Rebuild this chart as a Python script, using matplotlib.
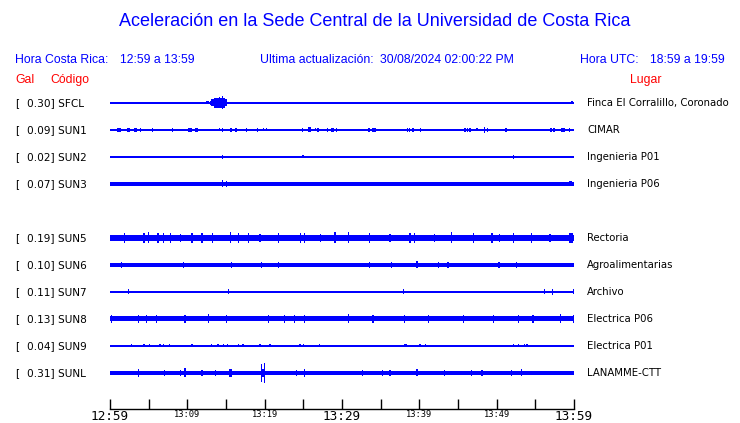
import matplotlib
matplotlib.use("Agg")
import matplotlib.pyplot as plt

# station table
codes = ["SFCL", "SUN1", "SUN2", "SUN3", "SUN5", "SUN6", "SUN7", "SUN8", "SUN9", "SUNL"]
gal = [0.30, 0.09, 0.02, 0.07, 0.19, 0.10, 0.11, 0.13, 0.04, 0.31]
places = ["Finca El Corralillo, Coronado", "CIMAR", "Ingenieria P01", "Ingenieria P06",
          "Rectoria", "Agroalimentarias", "Archivo", "Electrica P06", "Electrica P01", "LANAMME-CTT"]
slots = [0, 1, 2, 3, 5, 6, 7, 8, 9, 10]   # SUN4 has no trace

# background noise level of each trace (half height, px)
base_amp = [0.6, 0.6, 0.6, 2.0, 3.0, 1.8, 1.4, 2.5, 0.6, 2.0]

# bursts: (minute after 12:59, half amplitude px, duration min)
SFCL_EV = [(12.6, 1.5, 0.4), (13.2, 2, 0.5), (14.1, 3.5, 2.1), (14.2, 5, 1.4),
           (14.2, 5.5, 0.15), (14.5, 6.5, 0.15), (31.3, 1, 0.15), (59.7, 1.5, 0.3)]
SUN1_EV = [(1.0, 2, 0.25), (1.3, 2, 0.15), (2.4, 2, 0.4), (3.3, 2, 0.4), (3.9, 2, 0.15),
           (5.5, 2, 0.15), (7.3, 1, 0.15), (8.1, 2, 0.15), (9.5, 1, 0.15), (10.4, 2, 0.5),
           (11.2, 2, 0.4), (14.2, 1.5, 0.15), (14.5, 2, 0.15), (15.6, 2, 0.25), (16.3, 2, 0.15),
           (16.5, 1, 0.15), (17.7, 2, 0.15), (19.1, 2, 0.15), (19.9, 1.5, 0.15), (20.2, 1.5, 0.15),
           (23.8, 1, 0.15), (24.9, 2, 0.15), (25.8, 2.5, 0.4), (26.6, 1.5, 0.15), (26.9, 2, 0.25),
           (28.1, 2, 0.15), (28.8, 2, 0.4), (29.3, 2, 0.15), (33.5, 2, 0.15), (34.1, 2, 0.5),
           (38.5, 2, 0.15), (38.7, 2, 0.15), (39.2, 2, 0.25), (40.1, 2, 0.15), (45.9, 2, 0.15),
           (46.2, 2, 0.15), (46.6, 2, 0.25), (47.5, 1.5, 0.25), (48.4, 3, 0.15), (48.8, 2, 0.15),
           (51.2, 2, 0.15), (51.8, 1, 0.15), (57.0, 2, 0.25), (57.4, 2, 0.25), (58.6, 2, 0.6),
           (59.4, 2, 0.15)]
SUN2_EV = [(13.7, 1, 0.15), (14.5, 2, 0.15), (25.0, 1.5, 0.3), (38.2, 1, 0.15),
           (52.2, 2, 0.15), (52.8, 1, 0.15)]
SUN3_EV = [(14.5, 3.5, 0.15), (15.1, 3, 0.15), (59.6, 2.5, 0.4)]
SUN5_EV = [(1.9, 5, 0.15), (4.4, 5, 0.15), (5.0, 5.5, 0.15), (6.2, 5, 0.15), (6.9, 5, 0.15),
           (7.8, 5, 0.15), (9.1, 4, 0.15), (10.6, 5, 0.15), (11.9, 5, 0.15), (13.2, 5, 0.15),
           (15.6, 5.5, 0.15), (16.6, 5, 0.15), (17.9, 5, 0.15), (19.4, 4, 0.15), (21.8, 5, 0.15),
           (24.6, 5, 0.15), (25.2, 5, 0.15), (27.2, 4, 0.15), (29.1, 5.5, 0.15), (30.8, 5.5, 0.15),
           (33.6, 5, 0.15), (36.2, 4, 0.15), (38.8, 5, 0.15), (39.4, 5, 0.15), (42.0, 4, 0.15),
           (44.2, 5.5, 0.15), (47.0, 5, 0.15), (49.4, 5, 0.15), (50.4, 4, 0.15), (52.2, 5, 0.15),
           (54.5, 5, 0.15), (56.9, 4, 0.15), (59.6, 5, 0.5)]
SUN6_EV = [(1.5, 3, 0.15), (9.5, 3, 0.15), (15.7, 3, 0.15), (19.6, 3, 0.15), (21.8, 3, 0.15),
           (33.6, 3, 0.15), (36.4, 3, 0.15), (39.7, 3.5, 0.15), (42.5, 3, 0.15), (43.7, 3, 0.15),
           (50.3, 3, 0.15), (52.6, 3, 0.15)]
SUN7_EV = [(2.4, 2.5, 0.15), (15.3, 2.5, 0.15), (37.9, 2.5, 0.15), (56.2, 2.5, 0.15),
           (57.2, 3, 0.15), (59.9, 2.5, 0.15)]
SUN8_EV = [(0.2, 4, 0.15), (3.7, 4, 0.15), (4.7, 4, 0.15), (6.0, 4, 0.15), (9.7, 4, 0.15),
           (12.7, 4.5, 0.15), (15.1, 4, 0.15), (20.5, 4, 0.15), (22.6, 4, 0.15), (23.9, 4, 0.15),
           (25.2, 4, 0.15), (30.8, 4.5, 0.15), (34.0, 4, 0.15), (38.1, 4, 0.15), (41.2, 4, 0.15),
           (45.7, 4, 0.15), (49.6, 4, 0.15), (52.8, 4, 0.15), (54.7, 4, 0.15), (58.2, 4.5, 0.15),
           (59.9, 4, 0.15)]
SUN9_EV = [(2.8, 1.5, 0.2), (4.4, 1.5, 0.2), (5.1, 1.5, 0.2), (6.5, 1.5, 0.2), (6.9, 1.5, 0.2),
           (7.7, 1.5, 0.2), (10.6, 1.5, 0.2), (13.1, 1.5, 0.2), (14.0, 1.5, 0.2), (14.7, 1.5, 0.2),
           (15.2, 1.5, 0.2), (16.6, 1.5, 0.2), (17.2, 1.5, 0.2), (19.4, 1.5, 0.2), (20.7, 1.5, 0.2),
           (24.6, 1.5, 0.2), (25.0, 1.5, 0.2), (27.1, 1.5, 0.2), (38.2, 1.5, 0.3), (40.1, 1.5, 0.2),
           (40.8, 1.5, 0.2), (52.2, 1.5, 0.2), (52.8, 1.5, 0.2), (53.6, 1.5, 0.2), (53.9, 1.5, 0.2)]
SUNL_EV = [(3.7, 4, 0.15), (7.0, 3, 0.15), (9.1, 3, 0.15), (9.7, 4.5, 0.15), (11.9, 3, 0.15),
           (13.6, 3, 0.15), (15.6, 4, 0.4), (19.6, 9, 0.15), (19.8, 4, 0.5), (20.0, 10, 0.15),
           (24.1, 3, 0.15), (25.2, 4, 0.15), (32.6, 3, 0.15), (35.2, 3, 0.15), (36.2, 3, 0.15),
           (39.7, 3.5, 0.15), (43.3, 3, 0.15), (46.8, 3, 0.15), (48.1, 3, 0.15), (51.9, 3, 0.15),
           (53.2, 3.5, 0.15)]
events = [SFCL_EV, SUN1_EV, SUN2_EV, SUN3_EV, SUN5_EV, SUN6_EV, SUN7_EV, SUN8_EV, SUN9_EV, SUNL_EV]

tick_min = list(range(0, 61, 5))
tick_text = ["12:59", "", "13:09", "", "13:19", "", "13:29", "", "13:39", "", "13:49", "", "13:59"]

BLUE = "#0000ff"
RED = "#ff0000"
W, H = 740, 423

fig = plt.figure(figsize=(W / 100, H / 100), dpi=100)
# x axis = minutes, y axis = pixel rows of the picture
ax = fig.add_axes([110 / W, 0, 464 / W, 1])
ax.set_xlim(0, 60)
ax.set_ylim(H, 0)

for i in range(len(codes)):
    yc = 103 + 27 * slots[i]
    b = base_amp[i]
    ax.fill_between([0, 60], yc - b, yc + b, color=BLUE, linewidth=0)
    for t, a, w in events[i]:
        ax.bar(t, 2 * a, width=w, bottom=yc - a, color=BLUE, linewidth=0)

    fy = 1 - yc / H
    fig.text(15 / W, fy, "[", fontsize=7.6, va="center", family="DejaVu Sans")
    fig.text(27 / W, fy, f"{gal[i]:.2f}] {codes[i]}", fontsize=7.6, va="center", family="DejaVu Sans")
    fig.text(587 / W, fy, places[i], fontsize=7.3, va="center", family="DejaVu Sans")

# time axis
for s in ["left", "right", "top"]:
    ax.spines[s].set_visible(False)
ax.spines["bottom"].set_position(("data", 409))
ax.spines["bottom"].set_linewidth(1)
ax.set_yticks([])
ax.set_xticks(tick_min)
ax.set_xticklabels(tick_text, family="DejaVu Sans Mono")
ax.tick_params(axis="x", direction="in", length=7, width=1, pad=0.5)
for k, lab in enumerate(ax.get_xticklabels()):
    lab.set_fontsize(9.2 if k % 6 == 0 else 6.3)

# headings
hfont = dict(family="Liberation Sans", color=BLUE, va="center")
fig.text(375 / W, 1 - 22 / H, "Aceleración en la Sede Central de la Universidad de Costa Rica",
         fontsize=13, ha="center", **hfont)
fig.text(15 / W, 1 - 60 / H, "Hora Costa Rica:", fontsize=8.8, **hfont)
fig.text(120 / W, 1 - 60 / H, "12:59 a 13:59", fontsize=8.8, **hfont)
fig.text(260 / W, 1 - 60 / H, "Ultima actualización:", fontsize=8.8, **hfont)
fig.text(380 / W, 1 - 60 / H, "30/08/2024 02:00:22 PM", fontsize=8.8, **hfont)
fig.text(580 / W, 1 - 60 / H, "Hora UTC:", fontsize=8.8, **hfont)
fig.text(650 / W, 1 - 60 / H, "18:59 a 19:59", fontsize=8.8, **hfont)

rfont = dict(family="Liberation Sans", color=RED, va="center", fontsize=8.8)
fig.text(15 / W, 1 - 80 / H, "Gal", **rfont)
fig.text(50 / W, 1 - 80 / H, "Código", **rfont)
fig.text(630 / W, 1 - 80 / H, "Lugar", **rfont)

fig.savefig("out.png", dpi=100, facecolor="white")
